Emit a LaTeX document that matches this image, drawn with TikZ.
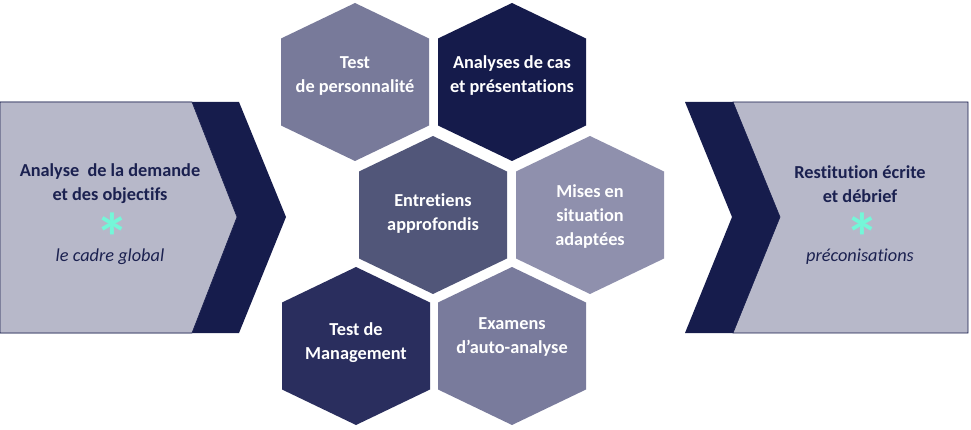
\documentclass[tikz,border=0pt]{standalone}
\usepackage{fontspec}
\setmainfont{Carlito}[Ligatures=NoCommon, RawFeature=-liga]
\definecolor{navy}{HTML}{161C4C}
\definecolor{panel}{HTML}{B7B8C9}
\definecolor{txtnavy}{HTML}{1B2150}
\definecolor{star}{HTML}{74F7D8}
\definecolor{hexA}{HTML}{787A9A}
\definecolor{hexB}{HTML}{151B4B}
\definecolor{hexC}{HTML}{515679}
\definecolor{hexD}{HTML}{8F90AD}
\definecolor{hexE}{HTML}{2A2E5E}
\definecolor{hexF}{HTML}{797B9C}
\tikzset{
  hextext/.style={align=center, text=white, font=\bfseries\fontsize{18.3}{24}\selectfont},
  paneltext/.style={align=center, text=txtnavy, font=\bfseries\fontsize{18.3}{24}\selectfont},
  subtext/.style={text=txtnavy, font=\itshape\fontsize{18.3}{22}\selectfont},
  startext/.style={text=star, font=\bfseries\fontsize{68}{68}\selectfont, inner sep=0pt},
  panelbox/.style={fill=panel, draw=navy, line width=0.6pt},
}
\newcommand\myhex[3]{\fill[#1, shift={(#2,#3)}] (0,79) -- (74,43.5) -- (74,-43.5) -- (0,-79) -- (-74,-43.5) -- (-74,43.5) -- cycle;}
\newcommand\mystar{\raisebox{-39pt}[10pt][10pt]{*}}
\begin{document}
\begin{tikzpicture}[x=1pt,y=1pt]
\useasboundingbox (0,0) rectangle (971,429);
% left panel
\fill[navy] (0,327) -- (239,327) -- (286,212) -- (239,96) -- (0,96) -- cycle;
\draw[panelbox] (0,327) -- (192,327) -- (237,212) -- (192,96) -- (0,96) -- cycle;
\node[paneltext] (lt) at (110,245) {Analyse\ \ de la demande\\et des objectifs};
\node[startext] (ls) at (112,207) {\mystar};
\node[subtext] (lc) at (110,172) {le cadre global};
% right panel
\draw[panelbox] (733,327) -- (968,327) -- (968,96) -- (733,96) -- (780,212) -- cycle;
\fill[navy] (685,327) -- (733,327) -- (780,212) -- (733,96) -- (685,96) -- (732,212) -- cycle;
\node[paneltext] (rt) at (860,245) {Restitution écrite\\et débrief};
\node[startext] (rs) at (862,207) {\mystar};
\node[subtext] (rc) at (860,172) {préconisations};
% hexagons
\myhex{hexA}{355}{347}
\myhex{hexB}{512}{347}
\myhex{hexC}{433}{214}
\myhex{hexD}{590}{214}
\myhex{hexE}{356}{83}
\myhex{hexF}{512}{83}
\node[hextext] (h1) at (355,353) {Test\\de personnalité};
\node[hextext] (h2) at (512,353) {Analyses de cas\\et présentations};
\node[hextext] (h3) at (433,215) {Entretiens\\approfondis};
\node[hextext] (h4) at (590,212) {Mises en\\situation\\adaptées};
\node[hextext] (h5) at (356,86) {Test de\\Management};
\node[hextext] (h6) at (512,92) {Examens\\d’auto-analyse};
\end{tikzpicture}
\end{document}
